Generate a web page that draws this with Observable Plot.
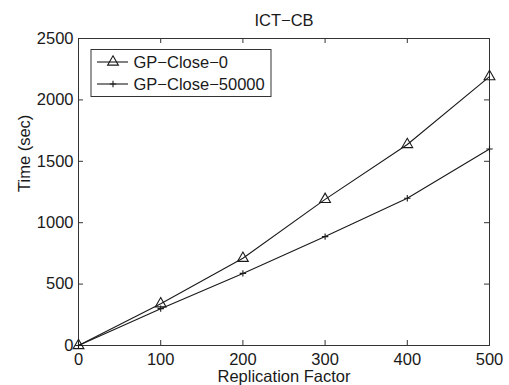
<!DOCTYPE html>
<html>
<head>
<meta charset="utf-8">
<script src="https://cdn.jsdelivr.net/npm/d3@7"></script>
<script src="https://cdn.jsdelivr.net/npm/@observablehq/plot@0.6"></script>
<style>
  html, body { margin: 0; padding: 0; background: #fff; }
  svg { display: block; }
</style>
</head>
<body>
<div id="chart"></div>
<script>
// ---- data ----
const replicationFactor = [0, 100, 200, 300, 400, 500];
const gpClose0 = [0, 340, 710, 1190, 1637, 2190];
const gpClose50000 = [0, 300, 587, 887, 1199, 1600];
const seriesNames = ["GP\u2212Close\u22120", "GP\u2212Close\u221250000"];
const xTicks = [0, 100, 200, 300, 400, 500];
const yTicks = [0, 500, 1000, 1500, 2000, 2500];
const titleText = "ICT\u2212CB";
const xLabel = "Replication Factor";
const yLabel = "Time (sec)";

const rows = replicationFactor.flatMap((x, i) => [
  {x, y: gpClose0[i], s: seriesNames[0]},
  {x, y: gpClose50000[i], s: seriesNames[1]}
]);

const W = 509, H = 385;
const mL = 78, mR = 20, mT = 38, mB = 40;
const fh = H - mT - mB, fw = W - mL - mR;
const tl = 5; // tick length (inward)
const ink = "#1a1a1a";
const FONT = "'Liberation Sans', Arial, Helvetica, sans-serif";
const FS = 16.5;

const plusSymbol = {
  draw(ctx, size) {
    const r = Math.sqrt(size / Math.PI);
    ctx.moveTo(-r, 0); ctx.lineTo(r, 0);
    ctx.moveTo(0, -r); ctx.lineTo(0, r);
  }
};

const plot = Plot.plot({
  width: W, height: H,
  marginLeft: mL, marginRight: mR, marginTop: mT, marginBottom: mB,
  style: {fontFamily: FONT, fontSize: FS + "px", color: ink, background: "#fff", overflow: "visible"},
  x: {domain: [0, 500], ticks: xTicks, tickFormat: d => String(d)},
  y: {domain: [0, 2500], ticks: yTicks, tickFormat: d => String(d)},
  marks: [
    Plot.frame({stroke: "#333", strokeWidth: 1}),
    // inward ticks
    Plot.tickX(xTicks, {x: d => d, insetTop: fh - tl, stroke: "#333"}),
    Plot.tickX(xTicks, {x: d => d, insetBottom: fh - tl, stroke: "#333"}),
    Plot.tickY(yTicks, {y: d => d, insetRight: fw - tl, stroke: "#333"}),
    Plot.tickY(yTicks, {y: d => d, insetLeft: fw - tl, stroke: "#333"}),
    Plot.axisX({ticks: xTicks, tickSize: 0, tickPadding: 8, label: null, tickFormat: d => String(d), fill: ink, fontSize: FS}),
    Plot.axisY({ticks: yTicks, tickSize: 0, tickPadding: 5, label: null, tickFormat: d => String(d), fill: ink, fontSize: FS}),
    Plot.line(rows, {x: "x", y: "y", z: "s", stroke: ink, strokeWidth: 1.1}),
    Plot.dot(rows.filter(d => d.s === seriesNames[0]), {x: "x", y: "y", symbol: "triangle", r: 4, stroke: ink, fill: "none", strokeWidth: 1.1}),
    Plot.dot(rows.filter(d => d.s === seriesNames[1]), {x: "x", y: "y", symbol: plusSymbol, r: 3.2, stroke: ink, fill: "none", strokeWidth: 1.1}),
    Plot.text([titleText], {text: d => d, frameAnchor: "top", lineAnchor: "bottom", dy: -13, fill: ink, fontSize: FS}),
    Plot.text([xLabel], {text: d => d, frameAnchor: "bottom", lineAnchor: "bottom", dy: 36, fill: ink, fontSize: FS}),
    Plot.text([yLabel], {text: d => d, frameAnchor: "left", lineAnchor: "bottom", rotate: -90, dx: -49, fill: ink, fontSize: FS})
  ]
});

// legend (inside plot, upper left)
const svg = d3.select(plot);
const lg = svg.append("g").attr("font-family", FONT).attr("font-size", FS).attr("text-anchor", "start");
const bx = 91, by = 49.5, bw = 180, bh = 47;
lg.append("rect").attr("x", bx).attr("y", by).attr("width", bw).attr("height", bh)
  .attr("fill", "#fff").attr("stroke", "#333");
const legendSymbols = [d3.symbol(d3.symbolTriangle, Math.PI * 16), d3.symbol(plusSymbol, Math.PI * 3.2 * 3.2)];
seriesNames.forEach((name, i) => {
  const cy = 62 + i * 22;
  lg.append("line").attr("x1", 97).attr("x2", 128).attr("y1", cy).attr("y2", cy)
    .attr("stroke", ink).attr("stroke-width", 1.1);
  lg.append("path").attr("d", legendSymbols[i]()).attr("transform", `translate(113,${cy})`)
    .attr("fill", "none").attr("stroke", ink).attr("stroke-width", 1.1);
  lg.append("text").attr("x", 133.5).attr("y", cy + 6).attr("fill", ink).attr("text-anchor", "start").text(name);
});

document.getElementById("chart").appendChild(plot);
</script>
</body>
</html>
